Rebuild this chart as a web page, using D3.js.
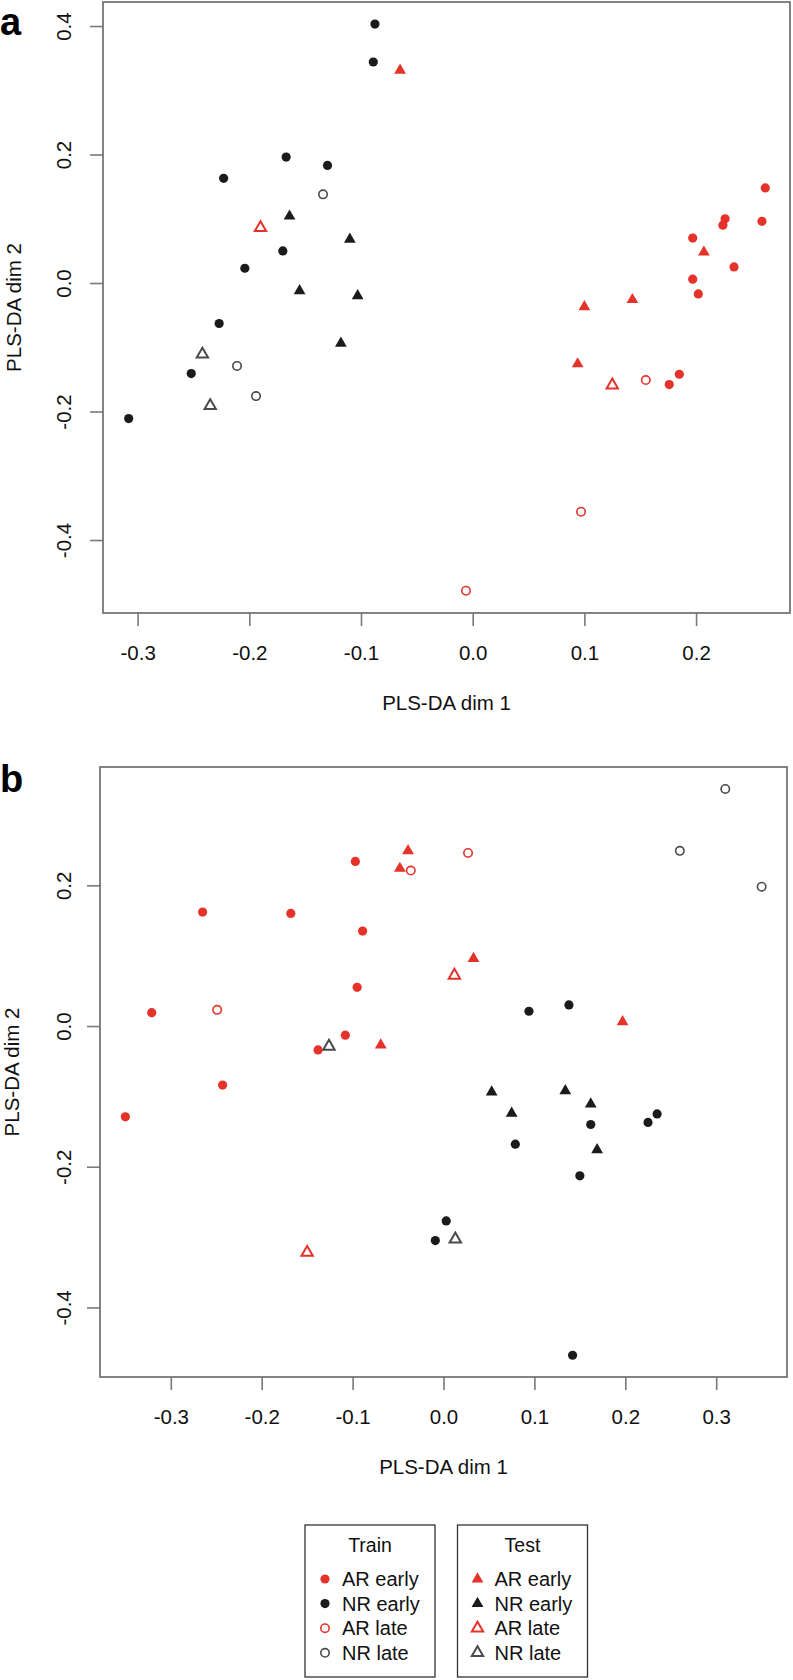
<!DOCTYPE html>
<html>
<head>
<meta charset="utf-8">
<script src="https://cdn.jsdelivr.net/npm/d3@7"></script>
<style>
  html, body { margin: 0; padding: 0; background: #fff; }
  svg { display: block; font-family: "Liberation Sans", Arial, Helvetica, sans-serif; }
</style>
</head>
<body>
<svg id="chart" width="793" height="1680"></svg>
<script>
// ---------------- DATA ----------------
const groupNames = ["AR early", "NR early", "AR late", "NR late"];
const axisTitleX = "PLS-DA dim 1";
const axisTitleY = "PLS-DA dim 2";

// Panel a
const aXTicks = [-0.3, -0.2, -0.1, 0.0, 0.1, 0.2];
const aYTicks = [-0.4, -0.2, 0.0, 0.2, 0.4];
const aTrainAREarly = [[0.262,0.148],[0.226,0.100],[0.224,0.090],[0.259,0.096],[0.197,0.070],[0.234,0.025],[0.197,0.006],[0.202,-0.017],[0.176,-0.158],[0.185,-0.142]];
const aTrainNREarly = [[-0.0875,0.403],[-0.089,0.344],[-0.223,0.163],[-0.167,0.196],[-0.130,0.183],[-0.170,0.050],[-0.204,0.023],[-0.227,-0.063],[-0.252,-0.141],[-0.308,-0.211]];
const aTrainARLate = [[0.155,-0.151],[0.097,-0.356],[-0.006,-0.479]];
const aTrainNRLate = [[-0.134,0.138],[-0.211,-0.129],[-0.194,-0.176]];
const aTestAREarly = [[-0.065,0.331],[0.207,0.048],[0.100,-0.037],[0.143,-0.026],[0.094,-0.126]];
const aTestNREarly = [[-0.164,0.104],[-0.110,0.068],[-0.155,-0.012],[-0.103,-0.020],[-0.118,-0.094]];
const aTestARLate = [[-0.190,0.086],[0.125,-0.159]];
const aTestNRLate = [[-0.242,-0.111],[-0.235,-0.191]];

// Panel b
const bXTicks = [-0.3, -0.2, -0.1, 0.0, 0.1, 0.2, 0.3];
const bYTicks = [-0.4, -0.2, 0.0, 0.2];
const bTrainAREarly = [[-0.097,0.234],[-0.265,0.162],[-0.168,0.160],[-0.089,0.135],[-0.095,0.055],[-0.321,0.019],[-0.108,-0.013],[-0.138,-0.034],[-0.243,-0.084],[-0.350,-0.129]];
const bTrainNREarly = [[0.094,0.021],[0.138,0.030],[0.162,-0.140],[0.235,-0.125],[0.225,-0.137],[0.079,-0.168],[0.150,-0.213],[0.003,-0.277],[-0.009,-0.305],[0.142,-0.468]];
const bTrainARLate = [[-0.249,0.023],[-0.036,0.221],[0.027,0.246]];
const bTrainNRLate = [[0.310,0.337],[0.260,0.249],[0.350,0.198]];
const bTestAREarly = [[-0.039,0.249],[-0.048,0.224],[0.033,0.096],[0.197,0.006],[-0.069,-0.027]];
const bTestNREarly = [[0.053,-0.094],[0.134,-0.092],[0.162,-0.111],[0.075,-0.124],[0.169,-0.176]];
const bTestARLate = [[0.012,0.072],[-0.150,-0.322]];
const bTestNRLate = [[-0.126,-0.029],[0.013,-0.303]];

// ---------------- STYLE ----------------
const RED = "#e5322a", BLACK = "#1b1b1b", GREY = "#4a4a4a";
const styles = {
  "train-AR early": {shape:"circle", fill:RED, stroke:"none"},
  "train-NR early": {shape:"circle", fill:BLACK, stroke:"none"},
  "train-AR late":  {shape:"circle", fill:"none", stroke:RED},
  "train-NR late":  {shape:"circle", fill:"none", stroke:GREY},
  "test-AR early":  {shape:"tri", fill:RED, stroke:"none"},
  "test-NR early":  {shape:"tri", fill:BLACK, stroke:"none"},
  "test-AR late":   {shape:"tri", fill:"none", stroke:RED},
  "test-NR late":   {shape:"tri", fill:"none", stroke:GREY}
};

const svg = d3.select("#chart");
const fmt = d => d3.format(".1f")(d).replace("\u2212", "-");

function drawMark(g, key, cx, cy) {
  const s = styles[key];
  if (s.shape === "circle") {
    const filled = s.fill !== "none";
    g.append("circle").attr("cx", cx).attr("cy", cy)
      .attr("r", filled ? 4.6 : 4.2)
      .attr("fill", s.fill).attr("stroke", s.stroke)
      .attr("stroke-width", filled ? 0 : 1.6);
  } else {
    const filled = s.fill !== "none";
    g.append("path").attr("transform", `translate(${cx},${cy})`)
      .attr("d", d3.symbol(d3.symbolTriangle, filled ? 60 : 56)())
      .attr("fill", s.fill).attr("stroke", s.stroke)
      .attr("stroke-width", filled ? 0 : 2).attr("stroke-linejoin", "miter");
  }
}

function panel(cfg) {
  const {left, top, right, bottom, xDom, yDom, xTicks, yTicks, series, label, labelY, yTickX, yTitleX} = cfg;
  const x = d3.scaleLinear().domain(xDom).range([left, right]);
  const y = d3.scaleLinear().domain(yDom).range([bottom, top]);
  const g = svg.append("g");

  // axes
  const xa = g.append("g").attr("transform", `translate(0,${bottom})`)
    .call(d3.axisBottom(x).tickValues(xTicks).tickFormat(fmt).tickSize(13).tickPadding(19));
  const ya = g.append("g").attr("transform", `translate(${left},0)`)
    .call(d3.axisLeft(y).tickValues(yTicks).tickFormat(fmt).tickSize(13));
  [xa, ya].forEach(a => {
    a.select(".domain").remove();
    a.selectAll(".tick line").attr("stroke", "#7a7a7a").attr("stroke-width", 1.6);
    a.selectAll(".tick text").attr("fill", "#111").attr("font-size", 20.5)
      .attr("font-family", "'Liberation Sans', Arial, Helvetica, sans-serif");
  });
  ya.selectAll(".tick text")
    .attr("x", null).attr("dy", null).attr("y", null)
    .attr("text-anchor", "middle")
    .attr("transform", `translate(${yTickX - left},0) rotate(-90)`);

  // box
  g.append("rect").attr("x", left).attr("y", top)
    .attr("width", right - left).attr("height", bottom - top)
    .attr("fill", "none").attr("stroke", "#6e6e6e").attr("stroke-width", 1.7);

  // points
  const pg = g.append("g");
  series.forEach(([key, pts]) => pts.forEach(p => drawMark(pg, key, x(p[0]), y(p[1]))));

  // titles
  g.append("text").attr("x", (left + right) / 2).attr("y", bottom + 97)
    .attr("text-anchor", "middle").attr("font-size", 20.5).attr("fill", "#111").text(axisTitleX);
  g.append("text").attr("transform", `translate(${yTitleX},${(top + bottom) / 2}) rotate(-90)`)
    .attr("text-anchor", "middle").attr("font-size", 20.5).attr("fill", "#111").text(axisTitleY);

  // panel letter
  g.append("text").attr("x", 0).attr("y", labelY).attr("font-size", 38)
    .attr("font-weight", "bold").attr("fill", "#000").text(label);
}

panel({
  left: 103, top: 2, right: 790, bottom: 613,
  xDom: [-0.3310, 0.2841], yDom: [-0.5136, 0.4374],
  xTicks: aXTicks, yTicks: aYTicks, label: "a", labelY: 34.5, yTickX: 71, yTitleX: 21,
  series: [
    ["train-AR early", aTrainAREarly], ["train-NR early", aTrainNREarly],
    ["train-AR late", aTrainARLate], ["train-NR late", aTrainNRLate],
    ["test-AR early", aTestAREarly], ["test-NR early", aTestNREarly],
    ["test-AR late", aTestARLate], ["test-NR late", aTestNRLate]
  ]
});

panel({
  left: 100, top: 767, right: 787, bottom: 1377,
  xDom: [-0.3779, 0.3779], yDom: [-0.4989, 0.3682],
  xTicks: bXTicks, yTicks: bYTicks, label: "b", labelY: 792, yTickX: 70.5, yTitleX: 19,
  series: [
    ["train-AR early", bTrainAREarly], ["train-NR early", bTrainNREarly],
    ["train-AR late", bTrainARLate], ["train-NR late", bTrainNRLate],
    ["test-AR early", bTestAREarly], ["test-NR early", bTestNREarly],
    ["test-AR late", bTestARLate], ["test-NR late", bTestNRLate]
  ]
});

// ---------------- LEGENDS ----------------
function legend(x0, title, prefix) {
  const w = 130, top = 1525, h = 152;
  const g = svg.append("g");
  g.append("rect").attr("x", x0).attr("y", top).attr("width", w).attr("height", h)
    .attr("fill", "none").attr("stroke", "#333").attr("stroke-width", 1.3);
  g.append("text").attr("x", x0 + w / 2).attr("y", 1551.5).attr("text-anchor", "middle")
    .attr("font-size", 19.5).attr("fill", "#111").text(title);
  groupNames.forEach((name, i) => {
    const by = 1586 + i * 24.6;
    drawMark(g, `${prefix}-${name}`, x0 + 20, by - 7);
    g.append("text").attr("x", x0 + 37).attr("y", by).attr("font-size", 20)
      .attr("fill", "#111").text(name);
  });
}
legend(305, "Train", "train");
legend(457.5, "Test", "test");
</script>
</body>
</html>
